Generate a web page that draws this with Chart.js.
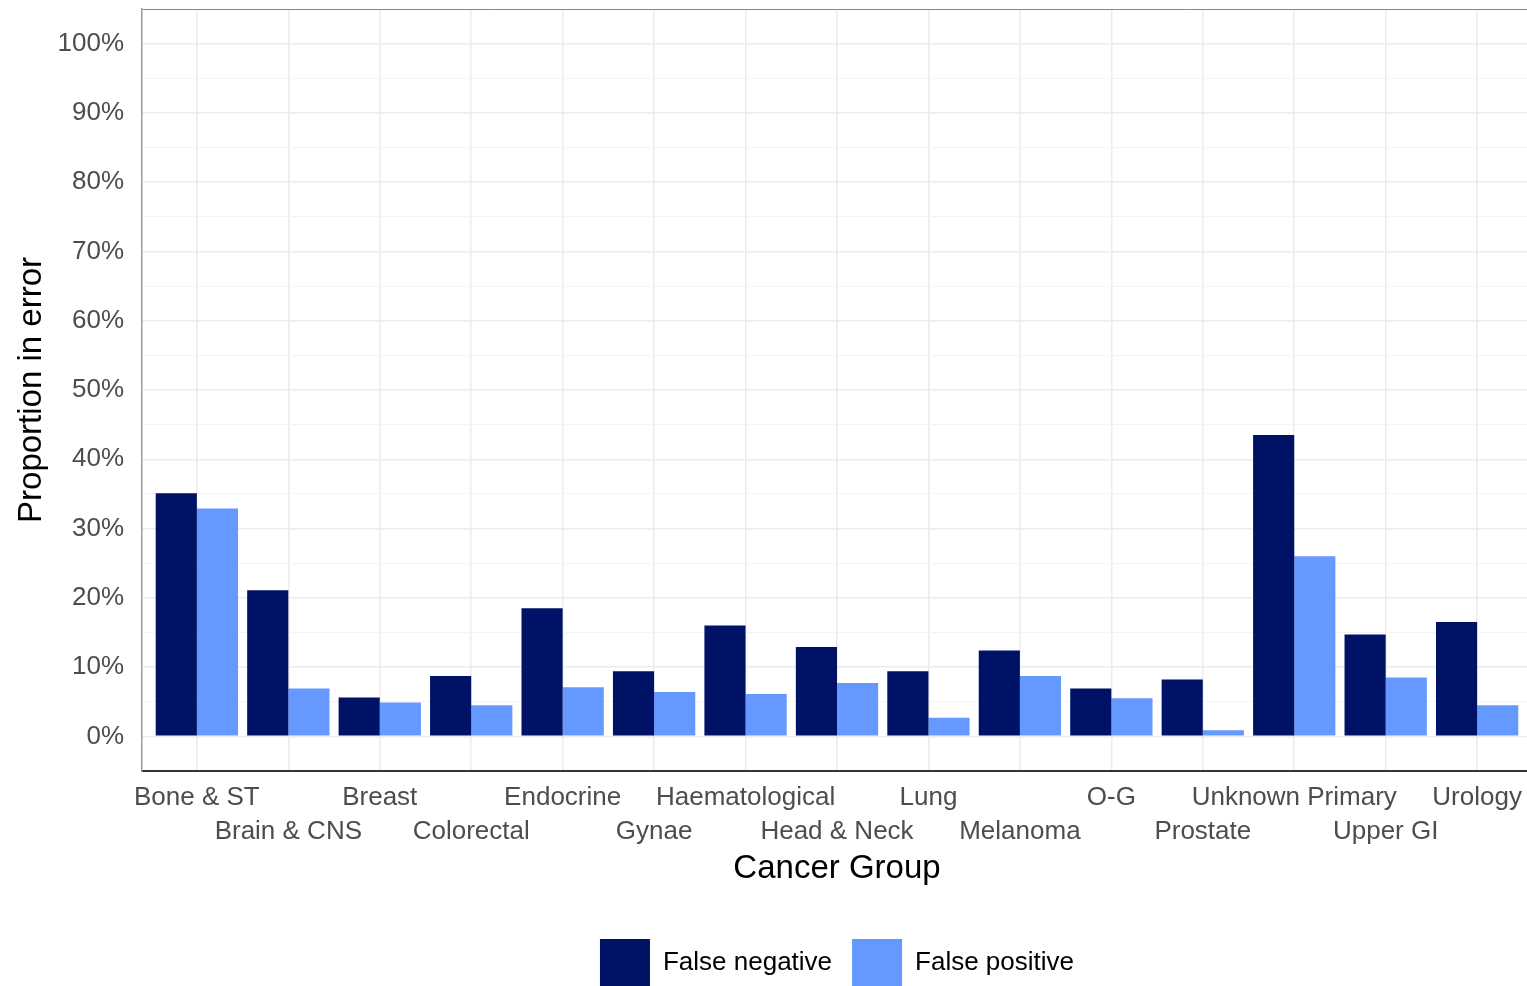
<!DOCTYPE html>
<html>
<head>
<meta charset="utf-8">
<script src="https://cdn.jsdelivr.net/npm/chart.js@4"></script>
<style>
  html, body { margin: 0; padding: 0; background: #fff; overflow: hidden; }
  #chart { display: block; }
</style>
</head>
<body>
<canvas id="chart" width="1532" height="997"></canvas>
<script>
const categories = [
  "Bone & ST", "Brain & CNS", "Breast", "Colorectal", "Endocrine", "Gynae",
  "Haematological", "Head & Neck", "Lung", "Melanoma", "O-G", "Prostate",
  "Unknown Primary", "Upper GI", "Urology"
];
const falseNegative = [35.1, 21.1, 5.6, 8.7, 18.5, 9.4, 16.0, 12.9, 9.4, 12.4, 6.9, 8.2, 43.5, 14.7, 16.5];
const falsePositive = [32.9, 6.9, 4.9, 4.5, 7.1, 6.4, 6.1, 7.7, 2.7, 8.7, 5.5, 0.9, 26.0, 8.5, 4.5];
const yTicks = [0, 10, 20, 30, 40, 50, 60, 70, 80, 90, 100];

const FONT = "'Liberation Sans', Arial, sans-serif";
const toPoints = arr => arr.map((v, i) => ({ x: i, y: v }));

new Chart(document.getElementById("chart"), {
  type: "bar",
  data: {
    datasets: [
      { label: "False negative", data: toPoints(falseNegative), backgroundColor: "#001266" },
      { label: "False positive", data: toPoints(falsePositive), backgroundColor: "#6699FF" }
    ]
  },
  options: {
    responsive: false,
    animation: false,
    devicePixelRatio: 1,
    layout: { padding: { left: 0, right: 0, top: 9, bottom: 0 } },
    datasets: { bar: { categoryPercentage: 0.9, barPercentage: 1.0 } },
    plugins: {
      tooltip: { enabled: false },
      legend: {
        position: "bottom",
        fullSize: false,
        labels: {
          boxWidth: 50,
          boxHeight: 48,
          padding: 20,
          color: "#000",
          font: { family: FONT, size: 26 }
        }
      }
    },
    scales: {
      x: {
        type: "linear",
        min: -0.6,
        max: 14.6,
        offset: false,
        afterBuildTicks: s => { s.ticks = categories.map((_, i) => ({ value: i })); },
        afterFit: s => { s.height = 148; s.paddingLeft = 0; s.paddingRight = 0; },
        ticks: {
          autoSkip: false,
          maxRotation: 0,
          padding: 10,
          color: "#4D4D4D",
          font: { family: FONT, size: 26, lineHeight: 1.31 },
          callback: (v, i) => i % 2 === 0 ? [categories[i], ""] : ["", categories[i]]
        },
        grid: { color: "#EBEBEB", lineWidth: 1.5, drawTicks: false, offset: false },
        border: { color: "#333", width: 2 },
        title: {
          display: true,
          text: "Cancer Group",
          color: "#000",
          font: { family: FONT, size: 33 },
          padding: { top: 0, bottom: 30 }
        }
      },
      y: {
        min: -5,
        max: 105,
        afterBuildTicks: s => {
          const t = [];
          for (let v = -5; v <= 105; v += 5) t.push({ value: v });
          s.ticks = t;
        },
        afterFit: s => { s.width = 142; s.paddingTop = 0; s.paddingBottom = 0; },
        ticks: {
          padding: 18,
          color: "#4D4D4D",
          font: { family: FONT, size: 26 },
          callback: v => yTicks.includes(v) ? v + "%" : ""
        },
        grid: {
          drawTicks: false,
          lineWidth: ctx => (ctx.tick && ctx.tick.value % 10 === 0) ? 1.5 : 1,
          color: ctx => {
            const v = ctx.tick ? ctx.tick.value : 0;
            if (v === 105) return "#888";
            if (v === -5) return "rgba(0,0,0,0)";
            return v % 10 === 0 ? "#EBEBEB" : "#F4F4F4";
          }
        },
        border: { color: "#999", width: 1.5 },
        title: {
          display: true,
          text: "Proportion in error",
          color: "#000",
          font: { family: FONT, size: 33 },
          padding: { top: 12, bottom: 0 }
        }
      }
    }
  }
});
</script>
</body>
</html>
